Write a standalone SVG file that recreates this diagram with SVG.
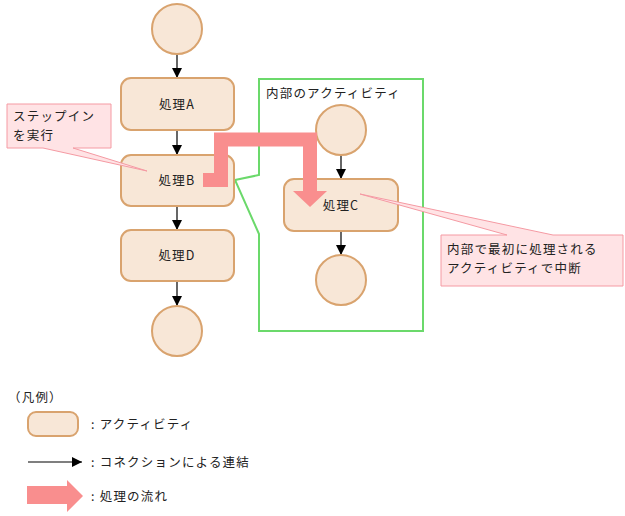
<svg xmlns="http://www.w3.org/2000/svg" width="625" height="516" viewBox="0 0 625 516">
<style>
.node{fill:#F8E7D7;stroke:#D9A36E;stroke-width:2}
.t{font-family:"Noto Sans CJK JP","Noto Sans",sans-serif;font-size:12.5px;letter-spacing:1.2px;fill:#222}
.c{text-anchor:middle}
.conn{stroke:#000;stroke-width:1.2;fill:none;marker-end:url(#ah)}
.note{fill:#FFE3E5;stroke:#F59AA3;stroke-width:1}
.flow{fill:none;stroke:#F98E8E;stroke-width:14}
</style>
<defs>
<marker id="ah" viewBox="0 0 10 10" refX="10" refY="5" markerWidth="10" markerHeight="10" markerUnits="userSpaceOnUse" orient="auto">
<path d="M0,0 L10,5 L0,10 z" fill="#000"/>
</marker>
</defs>
<rect width="625" height="516" fill="#fff"/>

<g id="inner-frame">
<polygon points="259,79 423,79 423,331 259,331 259,234 235,180 259,175" fill="none" stroke="#6BD96B" stroke-width="2"/>
<text class="t" x="266" y="98">内部のアクティビティ</text>
</g>

<g id="connectors">
<line class="conn" x1="177" y1="54" x2="177" y2="78"/>
<line class="conn" x1="177" y1="130" x2="177" y2="155"/>
<line class="conn" x1="177" y1="206" x2="177" y2="230"/>
<line class="conn" x1="177" y1="281" x2="177" y2="306"/>
<line class="conn" x1="341" y1="155" x2="341" y2="179"/>
<line class="conn" x1="341" y1="231" x2="341" y2="255"/>
</g>

<g id="start"><circle class="node" cx="177" cy="29" r="25"/></g>
<g id="nodeA"><rect class="node" x="121" y="78" width="113" height="52" rx="10"/><text class="t c" x="177" y="109">処理A</text></g>
<g id="nodeB"><rect class="node" x="121" y="155" width="113" height="51" rx="10"/><text class="t c" x="177" y="185">処理B</text></g>
<g id="nodeD"><rect class="node" x="121" y="230" width="113" height="51" rx="10"/><text class="t c" x="177" y="260">処理D</text></g>
<g id="end"><circle class="node" cx="177" cy="331" r="25"/></g>

<g id="innerStart"><circle class="node" cx="341" cy="130" r="25"/></g>
<g id="nodeC"><rect class="node" x="284" y="179" width="114" height="52" rx="10"/><text class="t c" x="341" y="210">処理C</text></g>
<g id="innerEnd"><circle class="node" cx="341" cy="280" r="25"/></g>

<g id="flow">
<path class="flow" d="M203,180 H221 V139.5 H310 V192"/>
<polygon points="293,191 327,191 310,207" fill="#F98E8E"/>
</g>

<g id="note1">
<polygon class="note" points="7,104 111,104 111,148 73,148 147,171 43,148 7,148"/>
<text class="t" x="13" y="121">ステップイン</text>
<text class="t" x="13" y="139.5">を実行</text>
</g>

<g id="note2">
<polygon class="note" points="441,235 507,235 360,194 553,235 623,235 623,286 441,286"/>
<text class="t" x="447" y="254">内部で最初に処理される</text>
<text class="t" x="447" y="273">アクティビティで中断</text>
</g>

<g id="legend">
<text class="t" x="8" y="402">（凡例）</text>
<rect class="node" x="28" y="412" width="50" height="24" rx="8"/>
<text class="t" x="91" y="429">: アクティビティ</text>
<line class="conn" x1="28" y1="462" x2="82" y2="462"/>
<text class="t" x="91" y="467">: コネクションによる連結</text>
<polygon points="27,486 67,486 67,480 83,496 67,512 67,504 27,504" fill="#F98E8E"/>
<text class="t" x="91" y="501">: 処理の流れ</text>
</g>
</svg>
